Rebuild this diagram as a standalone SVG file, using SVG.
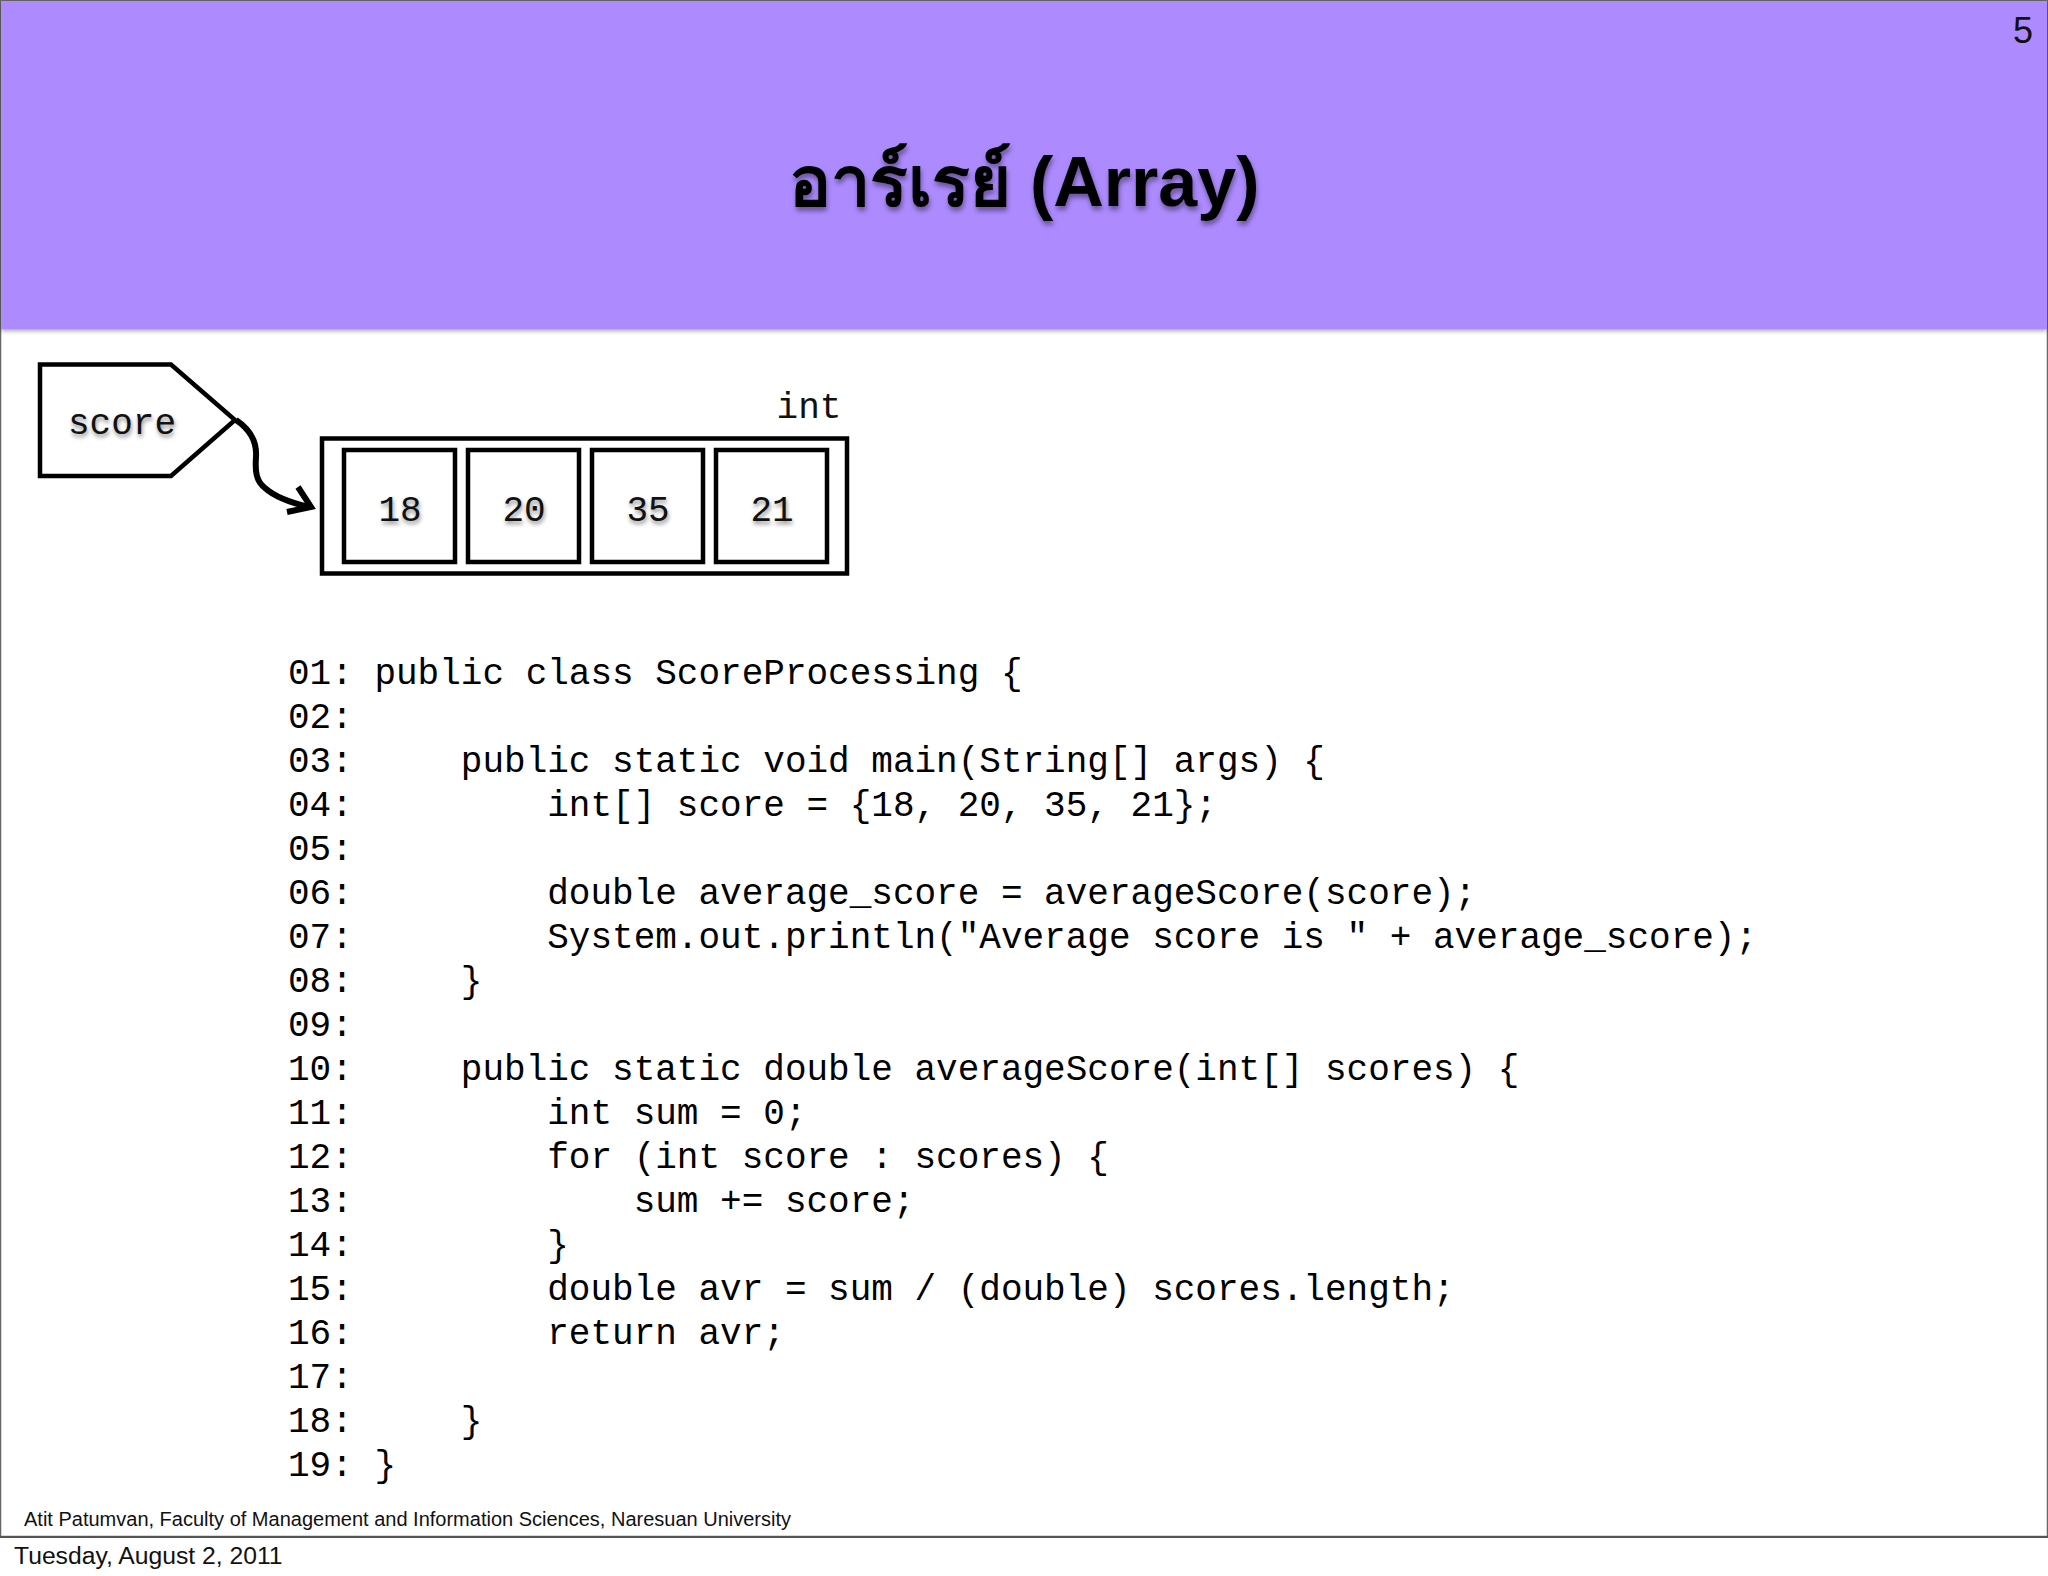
<svg xmlns="http://www.w3.org/2000/svg" width="2048" height="1576" viewBox="0 0 2048 1576">
<style>
.code{font-family:"Liberation Mono","Courier New",monospace;font-size:36px;fill:#000;white-space:pre}
.lab{font-family:"Liberation Mono","Courier New",monospace;font-size:36px;fill:#111;text-anchor:middle}
.sh{text-shadow:1px 3px 4px rgba(0,0,0,.45)}
.box{fill:#fff;stroke:#000;stroke-width:4.500}
.foot{font-family:"Liberation Sans",Arial,sans-serif;fill:#111}
.wire{fill:none;stroke:#000;stroke-linecap:butt;stroke-linejoin:miter}
</style>
<rect width="2048" height="1576" fill="#fff"/>
<g id="slide">
<rect x="0.5" y="0.5" width="2047" height="1536" fill="#fff" stroke="#666" stroke-width="1.5"/>
<rect x="1" y="1" width="2046" height="328" fill="#ad8bff" style="filter:drop-shadow(0 2px 2px rgba(0,0,0,.35))"/>
<text x="1024" y="206" text-anchor="middle" style="font-family:'Liberation Sans','DejaVu Sans','Noto Sans',sans-serif;font-size:70px;font-weight:bold;text-shadow:1px 4px 5px rgba(0,0,0,.4)">อาร์เรย์ (Array)</text>
<text x="2013" y="43" class="foot" font-size="36">5</text>
</g>
<g id="node-score">
<path class="box" d="M40 364.500H171L235 420L171 476H40Z"/>
<text class="lab sh" x="122" y="434">score</text>
</g>
<g id="node-int-label"><text class="lab" x="809" y="418">int</text></g>
<g id="node-array"><rect class="box" x="322" y="438.500" width="525" height="135"/></g>
<g id="node-18"><rect class="box" x="344" y="450" width="111" height="112"/><text class="lab sh" x="400" y="521">18</text></g>
<g id="node-20"><rect class="box" x="468" y="450" width="111" height="112"/><text class="lab sh" x="524" y="521">20</text></g>
<g id="node-35"><rect class="box" x="592" y="450" width="111" height="112"/><text class="lab sh" x="648" y="521">35</text></g>
<g id="node-21"><rect class="box" x="716" y="450" width="111" height="112"/><text class="lab sh" x="772" y="521">21</text></g>
<g id="connectors">
<path class="wire" stroke-width="6" d="M236 420C251 430 257 442 256 457C255 471 256 481 265 488C276 498 292 503 309 507"/>
<path class="wire" stroke-width="6" d="M298 487L311 507L287 512"/>
</g>
<g id="code">
<text class="code" x="288" y="684">01: public class ScoreProcessing {</text>
<text class="code" x="288" y="728">02:</text>
<text class="code" x="288" y="772">03:     public static void main(String[] args) {</text>
<text class="code" x="288" y="816">04:         int[] score = {18, 20, 35, 21};</text>
<text class="code" x="288" y="860">05:</text>
<text class="code" x="288" y="904">06:         double average_score = averageScore(score);</text>
<text class="code" x="288" y="948">07:         System.out.println("Average score is " + average_score);</text>
<text class="code" x="288" y="992">08:     }</text>
<text class="code" x="288" y="1036">09:</text>
<text class="code" x="288" y="1080">10:     public static double averageScore(int[] scores) {</text>
<text class="code" x="288" y="1124">11:         int sum = 0;</text>
<text class="code" x="288" y="1168">12:         for (int score : scores) {</text>
<text class="code" x="288" y="1212">13:             sum += score;</text>
<text class="code" x="288" y="1256">14:         }</text>
<text class="code" x="288" y="1300">15:         double avr = sum / (double) scores.length;</text>
<text class="code" x="288" y="1344">16:         return avr;</text>
<text class="code" x="288" y="1388">17:</text>
<text class="code" x="288" y="1432">18:     }</text>
<text class="code" x="288" y="1476">19: }</text>
</g>
<g id="footer">
<text class="foot" x="24" y="1525.500" font-size="20">Atit Patumvan, Faculty of Management and Information Sciences, Naresuan University</text>
<rect x="0" y="1536" width="2048" height="2" fill="#555"/>
<text class="foot" x="14" y="1563.500" font-size="24.700">Tuesday, August 2, 2011</text>
</g>
</svg>
